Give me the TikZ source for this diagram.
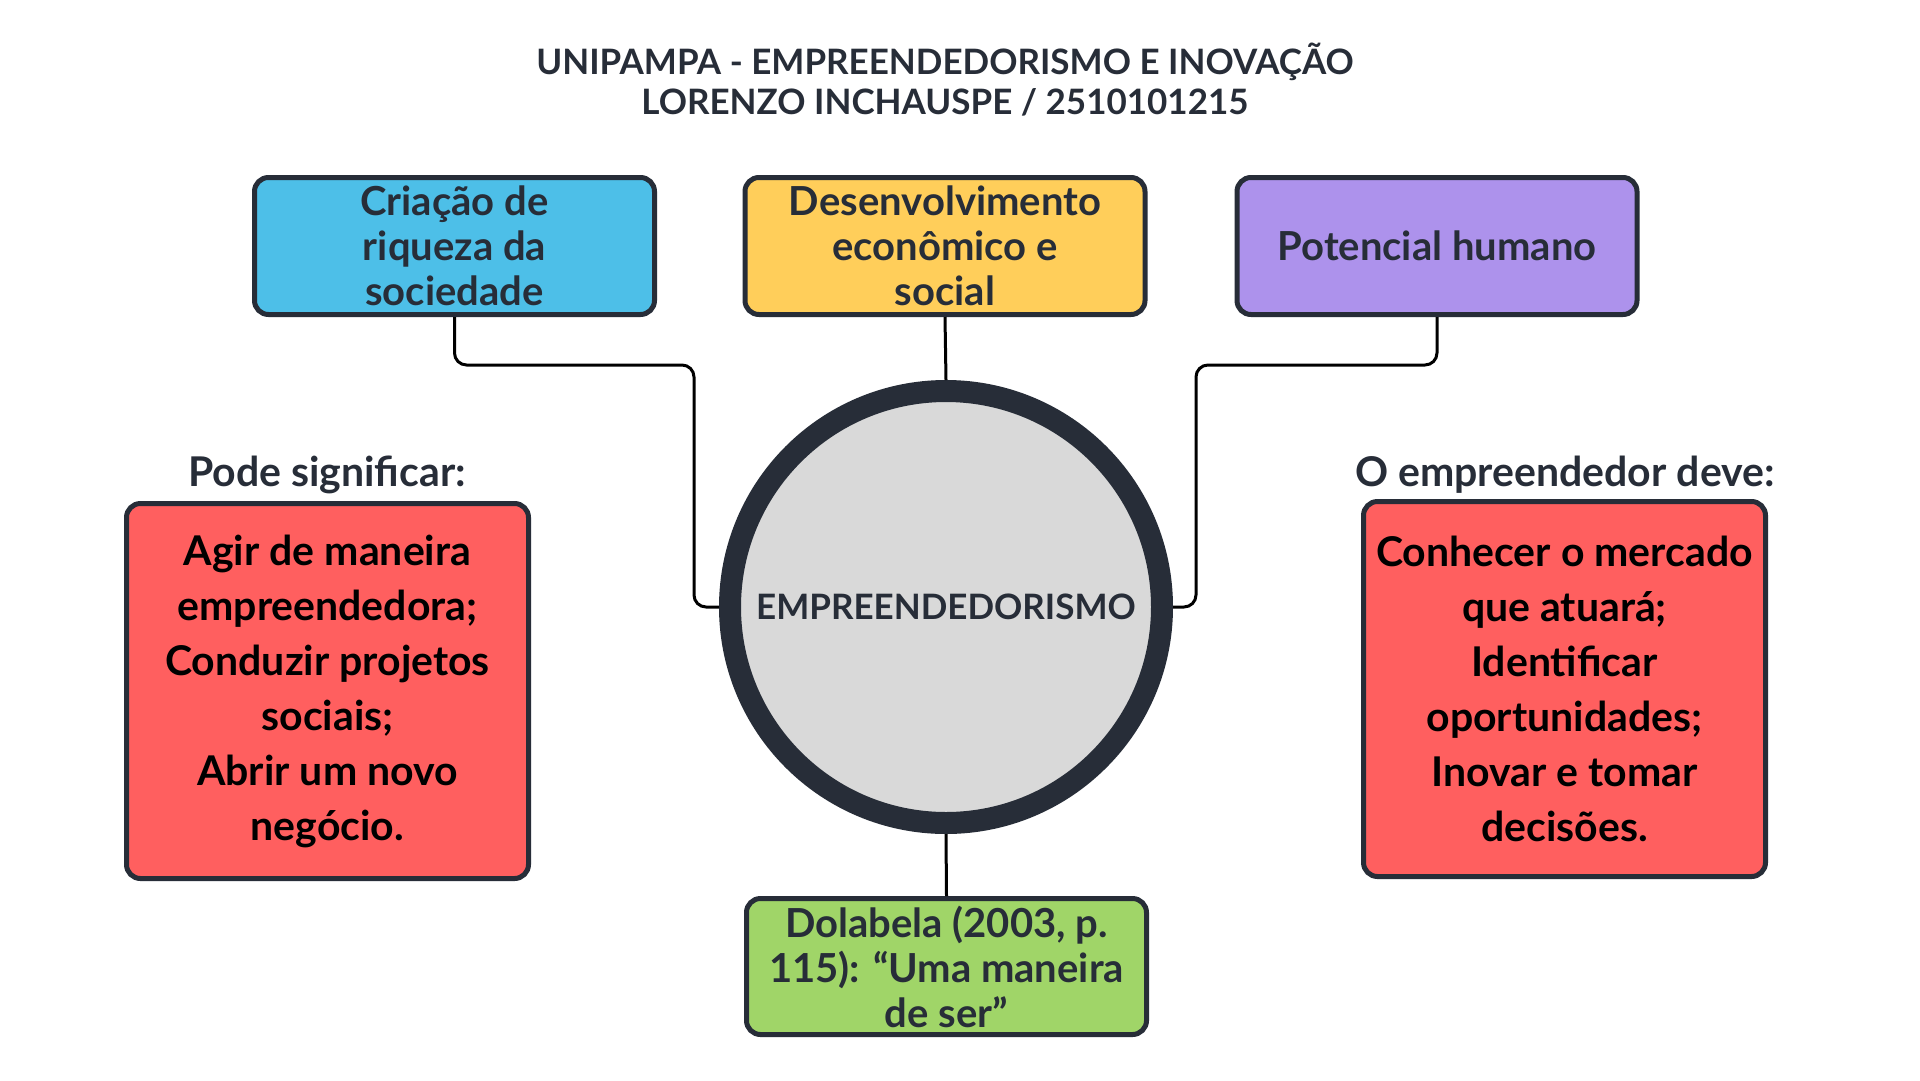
\documentclass[tikz,border=0pt]{standalone}
\usepackage{fontspec}
\setmainfont{Lato}
\definecolor{dark}{HTML}{272D38}
\definecolor{cblue}{HTML}{4DBFE8}
\definecolor{cyellow}{HTML}{FFCE5A}
\definecolor{cpurple}{HTML}{AD92EC}
\definecolor{cred}{HTML}{FF5F5F}
\definecolor{cgreen}{HTML}{A0D568}
\definecolor{cgrey}{HTML}{D9D9D9}
\begin{document}
\begin{tikzpicture}[x=1pt,y=-1pt,
  topbox/.style={draw=dark, line width=5pt, rounded corners=14pt, minimum width=400pt, minimum height=137pt,
    inner sep=0pt, align=center, text=dark, font=\fontsize{40}{45}\selectfont\bfseries},
  redbox/.style={draw=dark, line width=5pt, rounded corners=14pt, fill=cred, minimum width=402pt, minimum height=375pt,
    inner sep=0pt, align=center, text=black, font=\fontsize{41}{55}\selectfont\bfseries},
  lbl/.style={text=dark, font=\fontsize{41}{45}\selectfont\bfseries, inner sep=0pt, anchor=base},
  conn/.style={draw=black, line width=3pt, rounded corners=12pt}
]
\useasboundingbox[fill=white] (0,0) rectangle (1920,1080);

\node[text=dark, font=\fontsize{35}{40}\selectfont\bfseries, align=center, inner sep=0pt] (title) at (945,80)
  {UNIPAMPA - EMPREENDEDORISMO E INOVAÇÃO\\LORENZO INCHAUSPE / 2510101215};

\node[topbox, fill=cblue] (b1) at (454.5,246) {Criação de\\riqueza da\\sociedade};
\node[topbox, fill=cyellow] (b2) at (945,246) {Desenvolvimento\\econômico e\\social};
\node[topbox, fill=cpurple] (b3) at (1437,246) {Potencial humano};

\node[circle, draw=dark, line width=22pt, fill=cgrey, minimum size=432pt, inner sep=0pt,
  text=dark, font=\fontsize{35}{40}\selectfont\bfseries] (c) at (946,607) {EMPREENDEDORISMO};

\node[lbl] (l1) at (327,486) {Pode significar:};
\node[lbl] (l2) at (1565,486) {O empreendedor deve:};

\node[redbox] (r1) at (327.5,691) {Agir de maneira\\empreendedora;\\Conduzir projetos\\sociais;\\Abrir um novo\\negócio.};
\node[redbox] (r2) at (1564.5,689) {Conhecer o mercado\\que atuará;\\Identificar\\oportunidades;\\Inovar e tomar\\decisões.};

\node[topbox, fill=cgreen, minimum height=136pt] (g) at (946.5,966.5) {Dolabela (2003, p.\\115): “Uma maneira\\de ser”};

\coordinate (k1) at (694,365);
\coordinate (k2) at (1196,365);
\draw[conn] (b1.south) |- (k1) |- (c.west);
\draw[conn] (b3.south) |- (k2) |- (c.east);
\draw[conn] (b2.south) -- (c.north);
\draw[conn] (c.south) -- (g.north);
\end{tikzpicture}
\end{document}
